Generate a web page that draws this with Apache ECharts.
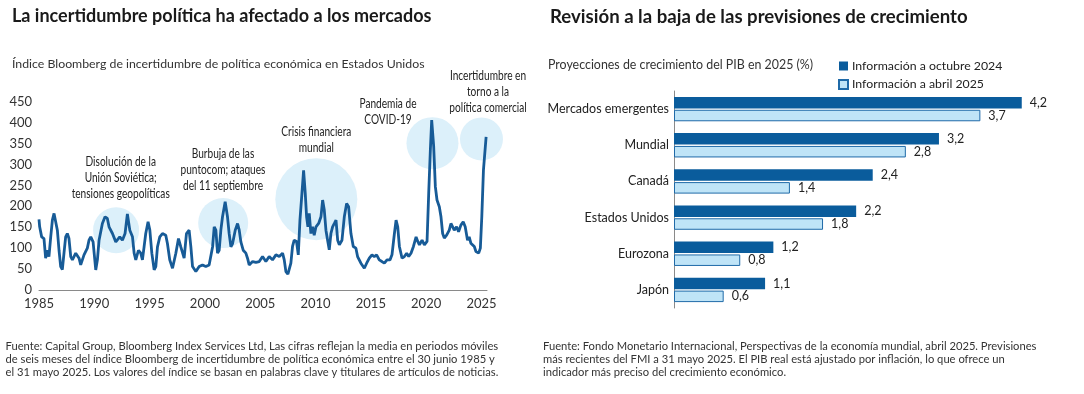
<!DOCTYPE html>
<html><head><meta charset="utf-8">
<script src="https://cdn.jsdelivr.net/npm/echarts@6/dist/echarts.min.js"></script>
<style>html,body{margin:0;padding:0;background:#fff}#c{width:1084px;height:394px}</style>
</head><body><div id="c"></div>
<script>
// ---- Left chart: Bloomberg US economic policy uncertainty index (6-month moving average)
const uncertaintyYears = [
1985.00,1985.06,1985.24,1985.45,1985.60,1985.75,1985.90,1986.06,1986.21,1986.36,1986.51,1986.66,1986.81,1986.96,
1987.11,1987.26,1987.41,1987.56,1987.71,1987.87,1988.02,1988.32,1988.62,1988.77,1989.07,1989.37,1989.52,1989.68,
1989.89,1990.13,1990.28,1990.43,1990.73,1990.97,1991.18,1991.33,1991.64,1991.94,1992.09,1992.30,1992.54,1992.78,
1992.99,1993.21,1993.45,1993.60,1993.75,1993.99,1994.20,1994.35,1994.50,1994.65,1994.86,1995.02,1995.20,1995.41,
1995.56,1995.71,1995.92,1996.16,1996.46,1996.61,1996.82,1997.07,1997.37,1997.61,1997.82,1998.12,1998.33,1998.57,
1998.73,1998.88,1999.18,1999.48,1999.78,2000.08,2000.38,2000.69,2000.84,2000.99,2001.14,2001.29,2001.44,2001.59,
2001.83,2002.04,2002.19,2002.35,2002.50,2002.74,2002.95,2003.10,2003.25,2003.46,2003.70,2003.85,2004.00,2004.31,
2004.61,2004.91,2005.21,2005.51,2005.81,2006.11,2006.42,2006.72,2007.02,2007.17,2007.32,2007.50,2007.77,2007.92,
2008.07,2008.28,2008.44,2008.59,2008.77,2008.92,2009.07,2009.19,2009.31,2009.43,2009.58,2009.73,2009.88,2010.04,
2010.28,2010.49,2010.64,2010.79,2010.94,2011.09,2011.24,2011.39,2011.54,2011.70,2011.85,2012.00,2012.15,2012.39,
2012.60,2012.81,2012.99,2013.20,2013.41,2013.65,2013.80,2014.10,2014.41,2014.62,2014.86,2015.10,2015.31,2015.52,
2015.76,2016.00,2016.22,2016.46,2016.73,2016.91,2017.13,2017.28,2017.43,2017.58,2017.82,2018.03,2018.24,2018.42,
2018.63,2018.85,2019.09,2019.24,2019.39,2019.63,2019.84,2020.08,2020.23,2020.38,2020.50,2020.68,2020.83,2020.98,
2021.19,2021.34,2021.49,2021.64,2021.85,2022.09,2022.24,2022.39,2022.54,2022.75,2022.93,2023.14,2023.35,2023.53,
2023.74,2023.89,2024.04,2024.20,2024.35,2024.50,2024.75,2024.90,2025.03,2025.18,2025.42
];
const uncertaintyValues = [
169,151,127,123,76,95,80,127,167,183,187,143,95,56,
49,88,127,135,123,80,72,88,76,60,84,100,119,127,
115,48,72,119,159,175,171,151,135,115,111,127,119,135,
182,143,127,88,72,95,88,72,103,135,163,143,88,48,
56,103,127,135,131,111,72,52,88,123,103,76,135,143,
103,56,44,56,60,56,60,103,151,143,88,95,143,175,
211,175,135,103,111,143,159,143,115,95,88,76,60,68,
66,68,80,68,80,72,84,80,88,72,44,38,64,104,
119,116,84,167,231,286,231,175,151,183,135,151,131,151,
159,175,215,191,143,119,96,135,151,159,167,119,108,119,
175,207,199,135,104,100,80,64,52,64,76,84,80,84,
72,68,64,72,72,84,135,167,151,104,76,80,88,80,
88,104,127,116,108,119,108,116,231,335,406,343,247,215,
199,175,135,124,131,143,159,155,143,151,139,155,163,151,
119,127,112,116,104,92,88,100,175,287,366
];
const yearTicks = [1985,1990,1995,2000,2005,2010,2015,2020,2025];
// highlighted episodes (circle centres in data units)
const highlightYears  = [1991.97, 2001.65, 2010.07, 2020.57, 2025.0];
const highlightValues = [143, 160, 217, 351, 361];
const highlightLabels = [
  'Disolución de la\nUnión Soviética;\ntensiones geopolíticas',
  'Burbuja de las\npuntocom; ataques\ndel 11 septiembre',
  'Crisis financiera\nmundial',
  'Pandemia de\nCOVID-19',
  'Incertidumbre en\ntorno a la\npolítica comercial'
];

// ---- Right chart: GDP growth projections for 2025 (%)
const regions = ['Mercados emergentes','Mundial','Canadá','Estados Unidos','Eurozona','Japón'];
const octubre2024 = [4.2, 3.2, 2.4, 2.2, 1.2, 1.1];
const abril2025  = [3.7, 2.8, 1.4, 1.8, 0.8, 0.6];
const seriesNames = ['Información a octubre 2024','Información a abril 2025'];

const FONT = 'Lato, "Noto Sans", sans-serif';
const circleSizes = [46, 50, 82, 52, 43];
const labelPos = [[120.7,153.7],[223,145.5],[316.3,123.5],[388,95.3],[488,68]];

const chart = echarts.init(document.getElementById('c'), null, {renderer:'canvas'});
const fmt = v => v.toFixed(1).replace('.', ',');

const option = {
  animation: false,
  backgroundColor: '#fff',
  textStyle: {fontFamily: FONT},
  grid: [
    {left: 39, width: 448, top: 101.7, height: 188.3},
    {left: 674, width: 372.6, top: 91, height: 217}
  ],
  xAxis: [
    {type:'value', gridIndex:0, min:1985, max:2025.5, interval:5,
     axisLine:{show:true, lineStyle:{color:'#8a8a8a', width:1}},
     axisTick:{show:false}, splitLine:{show:false},
     axisLabel:{color:'#333', fontSize:13, margin:7, fontFamily:FONT,
       formatter: v => yearTicks.includes(v) ? String(v) : ''}},
    {type:'value', gridIndex:1, min:0, max:4.5, show:false}
  ],
  yAxis: [
    {type:'value', gridIndex:0, min:0, max:450, interval:50,
     axisLine:{show:false}, axisTick:{show:false}, splitLine:{show:false},
     axisLabel:{color:'#333', fontSize:13, margin:7, fontFamily:FONT}},
    {type:'category', gridIndex:1, data:regions, inverse:true,
     axisLine:{show:true, lineStyle:{color:'#8a8a8a', width:1}},
     axisTick:{show:false},
     axisLabel:{color:'#222', fontSize:12.5, margin:5, fontFamily:FONT}}
  ],
  legend: {
    left: 838, top: 60, padding:0, orient:'vertical', itemWidth:9, itemHeight:9, itemGap:6.5,
    icon:'rect', data: seriesNames,
    textStyle:{color:'#222', fontSize:12.3, fontFamily:FONT, padding:[0,0,0,-1]}
  },
  series: [
    {type:'scatter', xAxisIndex:0, yAxisIndex:0, silent:true, z:1,
     data: highlightYears.map((y,i)=>[y, highlightValues[i]]),
     symbolSize: (v, p) => circleSizes[p.dataIndex],
     itemStyle:{color:'#dcf0fa', opacity:1}},
    {type:'line', xAxisIndex:0, yAxisIndex:0, z:3, showSymbol:false,
     data: uncertaintyYears.map((y,i)=>[y, uncertaintyValues[i]]),
     lineStyle:{color:'#175b97', width:2.8}},
    {type:'bar', name: seriesNames[0], xAxisIndex:1, yAxisIndex:1,
     data: octubre2024, barWidth:11.5, barGap:'12%',
     itemStyle:{color:'#0a5c9c'},
     label:{show:true, position:'right', distance:8, color:'#222', fontSize:12.5, fontFamily:FONT,
       formatter: p => fmt(p.value)}},
    {type:'bar', name: seriesNames[1], xAxisIndex:1, yAxisIndex:1,
     data: abril2025, barWidth:11.5, barGap:'12%',
     itemStyle:{color:'#bfe4f7', borderColor:'#1f6aa8', borderWidth:1},
     label:{show:true, position:'right', distance:8, color:'#222', fontSize:12.5, fontFamily:FONT,
       formatter: p => fmt(p.value)}}
  ],
  graphic: [
    {type:'text', x:12, y:7, style:{text:'La incertidumbre política ha afectado a los mercados',
      fontSize:18, fontWeight:'bold', fontFamily:FONT, fill:'#1a1a1a'}},
    {type:'text', x:550, y:7, style:{text:'Revisión a la baja de las previsiones de crecimiento',
      fontSize:18.6, fontWeight:'bold', fontFamily:FONT, fill:'#1a1a1a'}},
    {type:'text', x:12, y:58.5, style:{text:'Índice Bloomberg de incertidumbre de política económica en Estados Unidos',
      fontSize:12.3, fontFamily:FONT, fill:'#333'}},
    {type:'text', x:548, y:58.5, style:{text:'Proyecciones de crecimiento del PIB en 2025 (%)',
      fontSize:12.4, fontFamily:FONT, fill:'#333'}},
    {type:'text', x:5.5, y:340, style:{text:'Fuente: Capital Group, Bloomberg Index Services Ltd, Las cifras reflejan la media en periodos móviles\nde seis meses del índice Bloomberg de incertidumbre de política económica entre el 30 junio 1985 y\nel 31 mayo 2025. Los valores del índice se basan en palabras clave y titulares de artículos de noticias.',
      fontSize:11.2, lineHeight:13, fontFamily:FONT, fill:'#333'}},
    {type:'text', x:543, y:340, style:{text:'Fuente: Fondo Monetario Internacional, Perspectivas de la economía mundial, abril 2025. Previsiones\nmás recientes del FMI a 31 mayo 2025. El PIB real está ajustado por inflación, lo que ofrece un\nindicador más preciso del crecimiento económico.',
      fontSize:11.2, lineHeight:13, fontFamily:FONT, fill:'#333'}}
  ].concat(highlightLabels.map((t,i)=>({
    type:'text', x:labelPos[i][0], y:labelPos[i][1], z:10, scaleX:0.75, scaleY:1,
    style:{text:t, align:'center', verticalAlign:'top', fontSize:13.5, lineHeight:16,
      fontFamily:FONT, fill:'#222'}
  })))
};
chart.setOption(option);
</script></body></html>
